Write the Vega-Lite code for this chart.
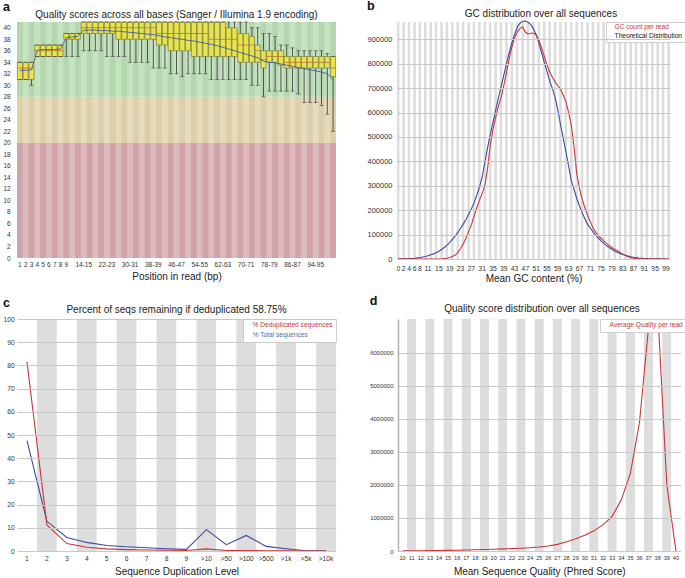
{
"$schema":"https://vega.github.io/schema/vega-lite/v6.json",
"background":"white",
"padding":{"left":2,"top":0,"right":2,"bottom":1},
"config":{
 "font":"Liberation Sans",
 "view":{"stroke":null},
 "axis":{"ticks":false,"domain":false,"grid":false,"labelColor":"#333333","titleColor":"#222222","titleFontSize":10,"titleFontWeight":"normal","labelFont":"Liberation Sans","titleFont":"Liberation Sans","labelOverlap":false},
 "title":{"fontSize":10,"fontWeight":"normal","color":"#222222","font":"Liberation Sans"}
},
"datasets":{
 "qa":[
{"pos":"1","lw":31,"q1":31,"med":33,"q3":34,"uw":34,"mean":32.6},
{"pos":"2","lw":31,"q1":31,"med":33,"q3":34,"uw":34,"mean":32.6},
{"pos":"3","lw":30,"q1":31,"med":33,"q3":34,"uw":34,"mean":32.7},
{"pos":"4","lw":35,"q1":35,"med":36,"q3":37,"uw":37,"mean":36.1},
{"pos":"5","lw":35,"q1":35,"med":36,"q3":37,"uw":37,"mean":36.2},
{"pos":"6","lw":35,"q1":35,"med":36,"q3":37,"uw":37,"mean":36.2},
{"pos":"7","lw":35,"q1":35,"med":36,"q3":37,"uw":37,"mean":36.2},
{"pos":"8","lw":35,"q1":35,"med":36,"q3":37,"uw":37,"mean":36.3},
{"pos":"9","lw":35,"q1":38,"med":39,"q3":39,"uw":39,"mean":38.3},
{"pos":"10-11","lw":35,"q1":38,"med":39,"q3":39,"uw":39,"mean":38.4},
{"pos":"12-13","lw":35,"q1":38,"med":39,"q3":39,"uw":39,"mean":38.5},
{"pos":"14-15","lw":36,"q1":39,"med":40,"q3":41,"uw":41,"mean":39.6},
{"pos":"16-17","lw":36,"q1":39,"med":40,"q3":41,"uw":41,"mean":39.6},
{"pos":"18-19","lw":36,"q1":39,"med":40,"q3":41,"uw":41,"mean":39.6},
{"pos":"20-21","lw":36,"q1":39,"med":40,"q3":41,"uw":41,"mean":39.5},
{"pos":"22-23","lw":35,"q1":39,"med":40,"q3":41,"uw":41,"mean":39.5},
{"pos":"24-25","lw":35,"q1":39,"med":40,"q3":41,"uw":41,"mean":39.4},
{"pos":"26-27","lw":35,"q1":38,"med":40,"q3":41,"uw":41,"mean":39.4},
{"pos":"28-29","lw":35,"q1":38,"med":40,"q3":41,"uw":41,"mean":39.3},
{"pos":"30-31","lw":34,"q1":38,"med":40,"q3":41,"uw":41,"mean":39.2},
{"pos":"32-33","lw":34,"q1":38,"med":40,"q3":41,"uw":41,"mean":39.1},
{"pos":"34-35","lw":34,"q1":38,"med":40,"q3":41,"uw":41,"mean":39.0},
{"pos":"36-37","lw":34,"q1":38,"med":40,"q3":41,"uw":41,"mean":38.9},
{"pos":"38-39","lw":33,"q1":38,"med":40,"q3":41,"uw":41,"mean":38.8},
{"pos":"40-41","lw":33,"q1":37,"med":39,"q3":41,"uw":41,"mean":38.6},
{"pos":"42-43","lw":33,"q1":37,"med":39,"q3":41,"uw":41,"mean":38.4},
{"pos":"44-45","lw":32,"q1":36,"med":39,"q3":41,"uw":41,"mean":38.3},
{"pos":"46-47","lw":32,"q1":36,"med":39,"q3":41,"uw":41,"mean":38.1},
{"pos":"48-49","lw":31.5,"q1":36,"med":39,"q3":41,"uw":41,"mean":38.0},
{"pos":"50-51","lw":32,"q1":36,"med":39,"q3":41,"uw":41,"mean":37.8},
{"pos":"52-53","lw":32,"q1":35,"med":39,"q3":41,"uw":41,"mean":37.7},
{"pos":"54-55","lw":32,"q1":35,"med":39,"q3":41,"uw":41,"mean":37.5},
{"pos":"56-57","lw":32,"q1":35,"med":39,"q3":41,"uw":41,"mean":37.3},
{"pos":"58-59","lw":31,"q1":35,"med":38,"q3":41,"uw":41,"mean":37.1},
{"pos":"60-61","lw":31,"q1":35,"med":38,"q3":41,"uw":41,"mean":36.9},
{"pos":"62-63","lw":31,"q1":35,"med":38,"q3":41,"uw":41,"mean":36.6},
{"pos":"64-65","lw":31,"q1":35,"med":38,"q3":40,"uw":41,"mean":36.3},
{"pos":"66-67","lw":31,"q1":35,"med":38,"q3":40,"uw":41,"mean":36.0},
{"pos":"68-69","lw":31,"q1":34,"med":37,"q3":39,"uw":41,"mean":35.7},
{"pos":"70-71","lw":31,"q1":34,"med":37,"q3":39,"uw":41,"mean":35.4},
{"pos":"72-73","lw":30,"q1":34,"med":37,"q3":38.5,"uw":40,"mean":35.1},
{"pos":"74-75","lw":30,"q1":34,"med":36,"q3":37,"uw":40,"mean":34.8},
{"pos":"76-77","lw":28,"q1":33,"med":34.5,"q3":36,"uw":39,"mean":34.2},
{"pos":"78-79","lw":29,"q1":34,"med":35,"q3":36,"uw":39,"mean":34.0},
{"pos":"80-81","lw":29,"q1":34,"med":35,"q3":36,"uw":38.5,"mean":33.9},
{"pos":"82-83","lw":29,"q1":33.5,"med":35,"q3":36,"uw":37,"mean":33.7},
{"pos":"84-85","lw":29,"q1":33,"med":34,"q3":35,"uw":37,"mean":33.5},
{"pos":"86-87","lw":29,"q1":33,"med":34,"q3":35,"uw":36.5,"mean":33.3},
{"pos":"88-89","lw":28.5,"q1":33,"med":34,"q3":35,"uw":36,"mean":33.1},
{"pos":"90-91","lw":27,"q1":33,"med":34,"q3":35,"uw":36,"mean":32.9},
{"pos":"92-93","lw":27,"q1":33,"med":34,"q3":35,"uw":36,"mean":32.7},
{"pos":"94-95","lw":27,"q1":33,"med":34,"q3":35,"uw":36,"mean":32.5},
{"pos":"96-97","lw":26.5,"q1":33,"med":34,"q3":35,"uw":36,"mean":32.3},
{"pos":"98-99","lw":25,"q1":33,"med":34,"q3":35,"uw":35.5,"mean":32.0},
{"pos":"100-101","lw":22,"q1":31.5,"med":33,"q3":35,"uw":35,"mean":31.0}
 ],
 "gc":[
{"gc":0,"c":0,"t":500},{"gc":1,"c":0,"t":700},{"gc":2,"c":0,"t":900},{"gc":3,"c":0,"t":1200},{"gc":4,"c":0,"t":1700},
{"gc":5,"c":0,"t":2300},{"gc":6,"c":0,"t":3200},{"gc":7,"c":0,"t":4500},{"gc":8,"c":0,"t":6000},{"gc":9,"c":0,"t":8000},
{"gc":10,"c":0,"t":10500},{"gc":11,"c":0,"t":13500},{"gc":12,"c":0,"t":17000},{"gc":13,"c":0,"t":21000},{"gc":14,"c":0,"t":26000},
{"gc":15,"c":0,"t":32000},{"gc":16,"c":500,"t":39000},{"gc":17,"c":1500,"t":47000},{"gc":18,"c":3000,"t":57000},{"gc":19,"c":6000,"t":68000},
{"gc":20,"c":10000,"t":80000},{"gc":21,"c":16000,"t":94000},{"gc":22,"c":27000,"t":109000},{"gc":23,"c":42000,"t":125000},{"gc":24,"c":62000,"t":143000},
{"gc":25,"c":85000,"t":162000},{"gc":26,"c":112000,"t":183000},{"gc":27,"c":140000,"t":205000},{"gc":28,"c":175000,"t":230000},{"gc":29,"c":210000,"t":260000},
{"gc":30,"c":240000,"t":295000},{"gc":31,"c":268000,"t":335000},{"gc":32,"c":300000,"t":395000},{"gc":33,"c":370000,"t":455000},{"gc":34,"c":465000,"t":510000},
{"gc":35,"c":530000,"t":560000},{"gc":36,"c":580000,"t":610000},{"gc":37,"c":625000,"t":658000},{"gc":38,"c":661000,"t":705000},{"gc":39,"c":710000,"t":752000},
{"gc":40,"c":765000,"t":800000},{"gc":41,"c":820000,"t":845000},{"gc":42,"c":868000,"t":885000},{"gc":43,"c":905000,"t":920000},{"gc":44,"c":930000,"t":950000},
{"gc":45,"c":945000,"t":966000},{"gc":46,"c":951000,"t":974000},{"gc":47,"c":930000,"t":975000},{"gc":48,"c":922000,"t":970000},{"gc":49,"c":925000,"t":960000},
{"gc":50,"c":925000,"t":943000},{"gc":51,"c":918000,"t":918000},{"gc":52,"c":895000,"t":885000},{"gc":53,"c":865000,"t":845000},{"gc":54,"c":830000,"t":805000},
{"gc":55,"c":795000,"t":768000},{"gc":56,"c":765000,"t":730000},{"gc":57,"c":745000,"t":698000},{"gc":58,"c":725000,"t":662000},{"gc":59,"c":710000,"t":610000},
{"gc":60,"c":695000,"t":550000},{"gc":61,"c":672000,"t":495000},{"gc":62,"c":645000,"t":440000},{"gc":63,"c":600000,"t":380000},{"gc":64,"c":545000,"t":320000},
{"gc":65,"c":460000,"t":285000},{"gc":66,"c":350000,"t":248000},{"gc":67,"c":290000,"t":218000},{"gc":68,"c":245000,"t":190000},{"gc":69,"c":210000,"t":165000},
{"gc":70,"c":180000,"t":143000},{"gc":71,"c":152000,"t":127000},{"gc":72,"c":128000,"t":112000},{"gc":73,"c":110000,"t":98000},{"gc":74,"c":96000,"t":85000},
{"gc":75,"c":85000,"t":74000},{"gc":76,"c":74000,"t":64000},{"gc":77,"c":64000,"t":55000},{"gc":78,"c":55000,"t":47000},{"gc":79,"c":47000,"t":40000},
{"gc":80,"c":40000,"t":33000},{"gc":81,"c":34000,"t":28000},{"gc":82,"c":27000,"t":23000},{"gc":83,"c":20000,"t":19000},{"gc":84,"c":14000,"t":15000},
{"gc":85,"c":9000,"t":12000},{"gc":86,"c":5500,"t":9500},{"gc":87,"c":3000,"t":7500},{"gc":88,"c":1500,"t":5800},{"gc":89,"c":800,"t":4300},
{"gc":90,"c":400,"t":3200},{"gc":91,"c":200,"t":2300},{"gc":92,"c":100,"t":1700},{"gc":93,"c":0,"t":1200},{"gc":94,"c":0,"t":900},
{"gc":95,"c":0,"t":700},{"gc":96,"c":0,"t":500},{"gc":97,"c":0,"t":400},{"gc":98,"c":0,"t":300},{"gc":99,"c":0,"t":200},{"gc":100,"c":0,"t":100}
 ],
 "dup":[
{"lvl":"1","d":81.5,"t":47.6},{"lvl":"2","d":11.2,"t":12.8},{"lvl":"3","d":3.2,"t":5.8},{"lvl":"4","d":1.6,"t":3.7},
{"lvl":"5","d":0.9,"t":2.4},{"lvl":"6","d":0.6,"t":1.8},{"lvl":"7","d":0.4,"t":1.4},{"lvl":"8","d":0.3,"t":1.0},
{"lvl":"9","d":0.2,"t":0.7},{"lvl":">10","d":0.9,"t":9.2},{"lvl":">50","d":0.2,"t":2.7},{"lvl":">100","d":0.2,"t":6.7},
{"lvl":">500","d":0.1,"t":2.0},{"lvl":">1k","d":0.05,"t":1.0},{"lvl":">5k","d":0,"t":0.1},{"lvl":">10k","d":0,"t":0.1}
 ],
 "mq":[
{"q":10,"n":5000},{"q":11,"n":7000},{"q":12,"n":9000},{"q":13,"n":12000},{"q":14,"n":15000},{"q":15,"n":20000},
{"q":16,"n":25000},{"q":17,"n":30000},{"q":18,"n":38000},{"q":19,"n":46000},{"q":20,"n":55000},{"q":21,"n":63000},
{"q":22,"n":72000},{"q":23,"n":84000},{"q":24,"n":100000},{"q":25,"n":120000},{"q":26,"n":150000},{"q":27,"n":200000},
{"q":28,"n":280000},{"q":29,"n":370000},{"q":30,"n":480000},{"q":31,"n":610000},{"q":32,"n":790000},{"q":33,"n":1050000},
{"q":34,"n":1550000},{"q":35,"n":2350000},{"q":36,"n":3900000},{"q":37,"n":6800000},{"q":38,"n":7300000},{"q":39,"n":2000000},{"q":40,"n":0}
 ]
},
"resolve":{"scale":{"fill":"independent","stroke":"independent","color":"independent"},"legend":{"fill":"independent","stroke":"independent","color":"independent"}},
"spacing":11,
"vconcat":[
 {
  "spacing":30,
  "resolve":{"scale":{"fill":"independent","stroke":"independent","color":"independent"},"legend":{"fill":"independent","stroke":"independent","color":"independent"}},
  "hconcat":[
   {
    "title":{"text":"a","anchor":"start","frame":"bounds","fontSize":12.5,"fontWeight":"bold","color":"#111111","offset":-4},
    "resolve":{"scale":{"fill":"independent","stroke":"independent","color":"independent"},"legend":{"fill":"independent","stroke":"independent","color":"independent"}},
    "vconcat":[
     {
      "title":{"text":"Quality scores across all bases (Sanger / Illumina 1.9 encoding)","offset":2,"frame":"group"},
      "width":319,"height":236,
      "layer":[
       {
        "data":{"values":[{"lo":0,"hi":20,"zone":"poor"},{"lo":20,"hi":28,"zone":"reasonable"},{"lo":28,"hi":41,"zone":"good"}]},
        "mark":{"type":"rect"},
        "encoding":{
         "y":{"field":"lo","type":"quantitative","title":null,"scale":{"domain":[0,41],"nice":false},"axis":{"values":[0,2,4,6,8,10,12,14,16,18,20,22,24,26,28,30,32,34,36,38,40],"tickCount":50,"labelFontSize":6.5,"labelPadding":6.8,"labelOverlap":false}},
         "y2":{"field":"hi"},
         "color":{"field":"zone","type":"nominal","scale":{"domain":["poor","reasonable","good"],"range":["#d1a3a9","#ddd0a8","#b3d8ae"]},"legend":null}
        }
       },
       {
        "data":{"name":"qa"},
        "encoding":{"x":{"field":"pos","type":"ordinal","sort":null,"title":"Position in read (bp)","scale":{"paddingInner":0,"paddingOuter":0},"axis":{"values":["1","2","3","4","5","6","7","8","9","14-15","22-23","30-31","38-39","46-47","54-55","62-63","70-71","78-79","86-87","94-95"],"labelAngle":0,"labelFontSize":6.5,"labelPadding":3.5,"titlePadding":3,"labelOverlap":false}}},
        "layer":[
         {"mark":{"type":"rect"},"encoding":{"y":{"datum":0,"title":null},"y2":{"datum":41},"fill":{"field":"pos","type":"nominal","sort":null,"scale":{"range":["rgba(255,255,255,0)","rgba(255,255,255,0.25)"]},"legend":null}}},
         {"mark":{"type":"rule","color":"#333333","strokeWidth":0.8},"encoding":{"y":{"field":"lw","type":"quantitative","title":null},"y2":{"field":"uw"}}},
         {"mark":{"type":"bar","width":{"band":0.88},"fill":"#e8e44a","stroke":"#6b6b3a","strokeWidth":0.6},"encoding":{"y":{"field":"q1","type":"quantitative","title":null},"y2":{"field":"q3"}}},
         {"mark":{"type":"tick","color":"#333333","thickness":0.8,"size":4},"encoding":{"y":{"field":"lw","type":"quantitative","title":null}}},
         {"mark":{"type":"tick","color":"#333333","thickness":0.8,"size":4},"encoding":{"y":{"field":"uw","type":"quantitative","title":null}}},
         {"mark":{"type":"tick","color":"#c0392b","thickness":0.8,"size":5},"encoding":{"y":{"field":"med","type":"quantitative","title":null}}},
         {"mark":{"type":"line","color":"#4557a8","strokeWidth":0.9},"encoding":{"y":{"field":"mean","type":"quantitative","title":null}}}
        ]
       }
      ]
     }
    ]
   },
   {
    "title":{"text":"b","anchor":"start","frame":"bounds","fontSize":12.5,"fontWeight":"bold","color":"#111111","offset":-4},
    "resolve":{"scale":{"fill":"independent","stroke":"independent","color":"independent"},"legend":{"fill":"independent","stroke":"independent","color":"independent"}},
    "vconcat":[
     {
      "title":{"text":"GC distribution over all sequences","offset":0,"frame":"group"},
      "width":288,"height":237,
      "data":{"name":"gc"},
      "encoding":{"x":{"field":"gc","type":"ordinal","title":"Mean GC content (%)","scale":{"paddingInner":0,"paddingOuter":0,"range":[0,273]},"axis":{"values":[0,2,4,6,8,11,15,19,23,27,31,35,39,43,47,51,55,59,63,67,71,75,79,83,87,91,95,99],"labelAngle":0,"labelFontSize":6.8,"labelOverlap":false,"labelPadding":6,"titlePadding":2}}},
      "layer":[
       {"mark":{"type":"rect"},"encoding":{
         "y":{"datum":0,"type":"quantitative","title":null,"scale":{"domain":[0,971000],"nice":false},"axis":{"values":[0,100000,200000,300000,400000,500000,600000,700000,800000,900000],"tickCount":50,"format":"d","grid":true,"gridColor":"#c8c8c8","zindex":1,"labelFontSize":7.5,"labelPadding":5,"labelOverlap":false}},
         "y2":{"datum":971000},
         "fill":{"field":"gc","type":"nominal","scale":{"range":["#dddddd","#ffffff"]},"legend":null}}},
       {"mark":{"type":"line","strokeWidth":1.1},"encoding":{
         "y":{"field":"t","type":"quantitative","title":null},
         "stroke":{"datum":"Theoretical Distribution","type":"nominal","scale":{"domain":["GC count per read","Theoretical Distribution"],"range":["#c83737","#3b4aa0"]},
           "legend":{"title":null,"orient":"top-right","offset":0,"fillColor":"#ffffff","strokeColor":"#cfcfcf","padding":2,"labelFontSize":6.6,"symbolSize":0,"symbolStrokeWidth":0,"symbolOpacity":0,"labelOffset":0,"rowPadding":1.5,"labelLimit":200,
             "encode":{"labels":{"update":{"fill":{"signal":"datum.value == 'GC count per read' ? '#c83737' : '#111111'"}}}}}}}},
       {"mark":{"type":"line","strokeWidth":1.1},"encoding":{
         "y":{"field":"c","type":"quantitative","title":null},
         "stroke":{"datum":"GC count per read","type":"nominal"}}}
      ]
     }
    ]
   }
  ]
 },
 {
  "spacing":32,
  "resolve":{"scale":{"fill":"independent","stroke":"independent","color":"independent"},"legend":{"fill":"independent","stroke":"independent","color":"independent"}},
  "hconcat":[
   {
    "title":{"text":"c","anchor":"start","frame":"bounds","fontSize":12.5,"fontWeight":"bold","color":"#111111","offset":-4},
    "resolve":{"scale":{"fill":"independent","stroke":"independent","color":"independent"},"legend":{"fill":"independent","stroke":"independent","color":"independent"}},
    "vconcat":[
     {
      "title":{"text":"Percent of seqs remaining if deduplicated 58.75%","offset":1,"frame":"group"},
      "width":319,"height":232,
      "data":{"name":"dup"},
      "encoding":{"x":{"field":"lvl","type":"ordinal","sort":null,"title":"Sequence Duplication Level","scale":{"paddingInner":0,"paddingOuter":0},"axis":{"labelAngle":0,"labelFontSize":6.7,"labelOverlap":false,"labelPadding":4,"titlePadding":5}}},
      "layer":[
       {"mark":{"type":"rect"},"encoding":{
         "y":{"datum":0,"type":"quantitative","title":null,"scale":{"domain":[0,100],"nice":false},"axis":{"values":[0,10,20,30,40,50,60,70,80,90,100],"tickCount":50,"grid":true,"gridColor":"#c8c8c8","zindex":1,"labelFontSize":6.7,"labelPadding":2.8,"labelOverlap":false}},
         "y2":{"datum":100},
         "fill":{"field":"lvl","type":"nominal","sort":null,"scale":{"range":["#ffffff","#dddddd"]},"legend":null}}},
       {"mark":{"type":"line","strokeWidth":1.1},"encoding":{
         "y":{"field":"t","type":"quantitative","title":null},
         "stroke":{"datum":"% Total sequences","type":"nominal","scale":{"domain":["% Deduplicated sequences","% Total sequences"],"range":["#c83737","#3b4aa0"]},
           "legend":{"title":null,"orient":"top-right","offset":0,"fillColor":"#ffffff","strokeColor":"#cfcfcf","padding":3,"labelFontSize":6.6,"symbolSize":0,"symbolStrokeWidth":0,"symbolOpacity":0,"labelOffset":0,"rowPadding":3,"labelLimit":200,
             "encode":{"labels":{"update":{"fill":{"signal":"datum.value == '% Deduplicated sequences' ? '#c83737' : '#5a6aa8'"}}}}}}}},
       {"mark":{"type":"line","strokeWidth":1.1},"encoding":{
         "y":{"field":"d","type":"quantitative","title":null},
         "stroke":{"datum":"% Deduplicated sequences","type":"nominal"}}}
      ]
     }
    ]
   },
   {
    "title":{"text":"d","anchor":"start","frame":"bounds","fontSize":12.5,"fontWeight":"bold","color":"#111111","offset":-4},
    "resolve":{"scale":{"fill":"independent","stroke":"independent","color":"independent"},"legend":{"fill":"independent","stroke":"independent","color":"independent"}},
    "vconcat":[
     {
      "title":{"text":"Quality score distribution over all sequences","offset":5,"frame":"group"},
      "width":288,"height":232,
      "data":{"name":"mq"},
      "encoding":{"x":{"field":"q","type":"ordinal","title":"Mean Sequence Quality (Phred Score)","scale":{"paddingInner":0,"paddingOuter":0,"range":[0,282.5]},"axis":{"labelAngle":0,"labelFontSize":5.6,"labelOverlap":false,"labelPadding":4,"titlePadding":6}}},
      "layer":[
       {"mark":{"type":"rect"},"encoding":{
         "y":{"datum":0,"type":"quantitative","title":null,"scale":{"domain":[0,7030000],"nice":false},"axis":{"values":[0,1000000,2000000,3000000,4000000,5000000,6000000],"tickCount":50,"format":"d","grid":true,"gridColor":"#c8c8c8","zindex":1,"labelFontSize":6,"labelPadding":5,"labelOverlap":false,"domain":true,"domainColor":"#b0b0b0","domainWidth":1.5}},
         "y2":{"datum":7030000},
         "fill":{"field":"q","type":"nominal","scale":{"range":["#ffffff","#dddddd"]},"legend":null}}},
       {"mark":{"type":"line","strokeWidth":1.1,"clip":true},"encoding":{
         "y":{"field":"n","type":"quantitative","title":null},
         "stroke":{"datum":"Average Quality per read","type":"nominal","scale":{"range":["#c83737"]},
           "legend":{"title":null,"orient":"top-right","offset":0,"fillColor":"#ffffff","strokeColor":"#cfcfcf","padding":3,"labelFontSize":6.6,"symbolSize":0,"symbolStrokeWidth":0,"symbolOpacity":0,"labelOffset":0,"labelColor":"#c83737","labelLimit":200}}}}
      ]
     }
    ]
   }
  ]
 }
]
}
